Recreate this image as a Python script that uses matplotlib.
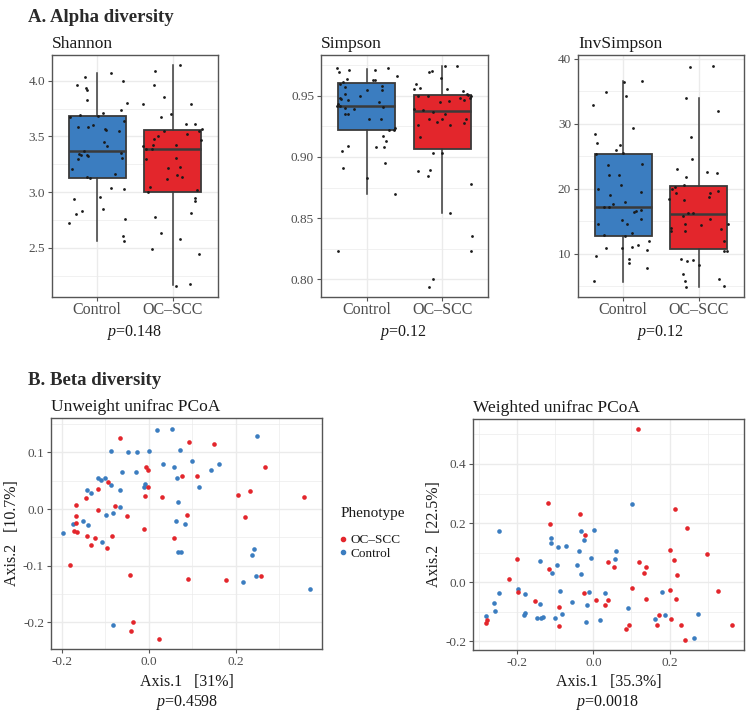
import numpy as np
import matplotlib
matplotlib.use('Agg')
import matplotlib.pyplot as plt
from matplotlib.ticker import MultipleLocator
from matplotlib.lines import Line2D

plt.rcParams['font.family'] = ['Liberation Serif', 'DejaVu Serif']
plt.rcParams['mathtext.fontset'] = 'custom'
plt.rcParams['mathtext.rm'] = 'Liberation Serif'
plt.rcParams['mathtext.it'] = 'Liberation Serif:italic'

# ---------------- data ----------------
groups = ["Control", "OC–SCC"]
ctrl_color = "#3B7DC0"
oc_color = "#E3262C"

# Shannon
shannon_ctrl = [4.03, 3.96, 3.93, 3.92, 3.83, 4.07, 4.00, 3.80, 3.74, 3.64, 3.71, 3.68, 3.69, 3.67, 3.58,
                3.58, 3.60, 3.57, 3.56, 3.55, 3.45, 3.41, 3.37, 3.34, 3.33, 3.30, 3.32, 3.33, 3.35, 3.31,
                3.21, 3.14, 3.13, 3.16, 3.04, 3.03, 2.94, 2.96, 2.85, 2.83, 2.80, 2.72, 2.76, 2.61, 2.56]
shannon_ctrl_jit = [-0.16, -0.27, -0.15, -0.13, -0.14, 0.18, 0.34, 0.39, 0.32, 0.36, 0.08, 0.01, -0.23, -0.36, -0.25,
                    -0.12, -0.05, 0.10, 0.11, 0.29, 0.09, 0.13, -0.18, -0.24, -0.22, -0.25, -0.12, -0.13, 0.31, 0.33,
                    -0.34, -0.13, -0.10, 0.23, 0.18, 0.35, -0.31, 0.04, 0.07, -0.20, -0.28, -0.37, 0.37, 0.34, 0.36]
shannon_oc = [4.14, 4.09, 3.96, 3.85, 3.79, 3.79, 3.70, 3.67, 3.61, 3.61, 3.57, 3.55, 3.55, 3.52, 3.50,
              3.48, 3.47, 3.41, 3.42, 3.42, 3.39, 3.39, 3.30, 3.31, 3.22, 3.23, 3.15, 3.14, 3.12, 3.05,
              3.00, 3.02, 2.95, 2.92, 2.81, 2.78, 2.63, 2.58, 2.49, 2.45, 2.18, 2.16]
shannon_oc_jit = [0.10, -0.24, -0.25, -0.11, -0.40, 0.24, -0.02, -0.15, 0.18, 0.29, 0.39, 0.35, -0.12, 0.19, -0.19,
                  -0.25, 0.37, -0.39, -0.26, 0.05, -0.35, -0.28, -0.36, 0.04, -0.06, 0.10, 0.06, 0.12, -0.08, -0.30,
                  -0.33, 0.32, 0.29, 0.29, 0.24, -0.24, -0.15, 0.10, -0.28, 0.35, 0.23, 0.05]
# box stats: whislo, q1, median, q3, whishi
shannon_box_ctrl = [2.56, 3.13, 3.37, 3.68, 4.07]
shannon_box_oc = [2.17, 3.00, 3.39, 3.56, 4.14]

# Simpson
simpson_ctrl = [0.9726, 0.969, 0.971, 0.9726, 0.9707, 0.9658, 0.964, 0.9625, 0.9625, 0.961,
                0.960, 0.957, 0.958, 0.955, 0.9546, 0.9514, 0.9497, 0.948, 0.9475, 0.9465,
                0.9445, 0.9432, 0.9415, 0.9415, 0.9396, 0.9394, 0.9404, 0.9347, 0.9347, 0.9306,
                0.9306, 0.924, 0.9224, 0.9216, 0.917, 0.9126, 0.9083, 0.908, 0.909, 0.9047,
                0.8908, 0.8954, 0.8826, 0.8698, 0.8229]
simpson_ctrl_jit = [-0.39, -0.36, -0.23, 0.28, 0.11, 0.40, -0.26, 0.08, 0.11, -0.31,
                    -0.35, -0.28, 0.21, 0.20, 0.00, -0.28, -0.09, -0.35, -0.34, -0.24,
                    0.17, -0.37, -0.39, -0.35, -0.29, -0.17, 0.22, -0.28, -0.25, 0.03,
                    0.19, 0.38, 0.36, 0.30, 0.22, 0.25, 0.12, 0.23, -0.24, -0.32,
                    -0.31, 0.24, 0.01, 0.37, -0.37]
simpson_oc = [0.9743, 0.9743, 0.9705, 0.969, 0.9642, 0.9595, 0.9563, 0.9555, 0.9552, 0.9541,
              0.9516, 0.951, 0.950, 0.9497, 0.9497, 0.9481, 0.9481, 0.9465, 0.9456, 0.9451,
              0.9388, 0.9385, 0.9364, 0.9347, 0.9306, 0.9306, 0.9306, 0.9274, 0.9287, 0.926,
              0.926, 0.9165, 0.9031, 0.9031, 0.8884, 0.8897, 0.8848, 0.878, 0.8543, 0.8354,
              0.8234, 0.8002, 0.794]
simpson_oc_jit = [0.03, 0.19, -0.14, -0.18, -0.02, -0.35, -0.30, -0.37, 0.06, 0.27,
                  0.32, 0.34, 0.38, -0.32, -0.19, 0.36, 0.23, 0.29, 0.08, -0.03,
                  -0.37, -0.26, -0.13, 0.04, -0.18, -0.01, 0.31, 0.28, -0.07, -0.32,
                  0.10, -0.29, -0.12, 0.00, -0.32, -0.16, -0.19, 0.38, 0.10, 0.39,
                  0.38, -0.13, -0.18]
simpson_box_ctrl = [0.870, 0.9216, 0.9413, 0.9604, 0.972]
simpson_box_oc = [0.8543, 0.9066, 0.9375, 0.951, 0.9745]

# InvSimpson
invsimpson_ctrl = [32.85, 34.85, 36.5, 36.55, 34.3, 29.35, 28.4, 27.0, 26.8, 25.95,
                   25.54, 25.33, 23.7, 23.8, 22.1, 22.1, 20.5, 20.0, 19.5, 19.05,
                   17.7, 17.9, 17.1, 17.1, 16.7, 16.6, 16.4, 15.2, 15.35, 14.5,
                   14.5, 12.9, 12.7, 13.1, 12.0, 10.9, 10.9, 11.0, 11.3, 10.5,
                   9.6, 9.15, 8.55, 7.7, 5.7]
invsimpson_ctrl_jit = [-0.40, -0.23, 0.01, 0.25, 0.04, 0.13, -0.38, -0.35, -0.04, -0.09,
                       -0.01, -0.36, -0.20, 0.25, -0.19, -0.06, -0.03, -0.33, 0.24, -0.17,
                       -0.14, 0.02, -0.26, -0.19, 0.23, 0.17, 0.14, -0.02, 0.24, -0.33,
                       0.05, -0.25, 0.02, 0.12, 0.34, -0.23, -0.02, 0.12, 0.20, 0.31,
                       -0.36, 0.08, 0.08, 0.32, -0.39]
invsimpson_oc = [38.9, 38.7, 33.9, 32.0, 28.0, 24.6, 23.0, 22.6, 22.35, 21.8,
                 20.5, 20.3, 20.0, 19.4, 19.7, 19.3, 18.75, 18.4, 18.2, 16.3,
                 16.3, 15.8, 15.3, 14.5, 14.5, 14.4, 14.0, 13.5, 13.5, 13.8,
                 12.0, 10.4, 10.4, 9.1, 9.0, 8.8, 8.25, 6.9, 6.1, 5.7,
                 4.9, 5.0]
invsimpson_oc_jit = [0.19, -0.12, -0.17, 0.26, -0.10, -0.09, -0.29, 0.11, 0.24, -0.17,
                     -0.20, -0.31, -0.36, -0.30, 0.26, 0.15, 0.14, -0.40, -0.20, -0.14,
                     -0.07, -0.21, 0.15, 0.39, -0.18, 0.03, -0.37, -0.37, -0.18, 0.29,
                     0.33, 0.34, 0.38, -0.24, -0.08, -0.15, 0.00, -0.21, 0.27, -0.18,
                     -0.17, 0.34]
invsimpson_box_ctrl = [5.62, 12.72, 17.1, 25.33, 36.6]
invsimpson_box_oc = [4.85, 10.77, 16.07, 20.44, 33.9]

alpha_pvals = ["0.148", "0.12", "0.12"]
beta_pvals = ["0.4598", "0.0018"]

# Unweighted UniFrac PCoA
uw_ctrl_x = [-0.198, -0.175, -0.152, -0.139, -0.141, -0.132, -0.116, -0.109, -0.100, -0.087,
             -0.098, -0.107, -0.082, -0.065, -0.065, -0.061, -0.087, -0.048, -0.027, 0.001,
             -0.030, -0.011, -0.008, 0.018, 0.053, 0.033, 0.057, 0.071, 0.099, 0.064,
             0.068, 0.063, 0.084, 0.067, 0.074, 0.116, 0.142, 0.162, 0.249, 0.242,
             0.238, 0.247, 0.217, 0.370, -0.083]
uw_ctrl_y = [-0.042, -0.027, -0.022, -0.029, 0.033, 0.028, 0.054, 0.051, 0.055, 0.042,
             -0.011, -0.059, -0.007, 0.003, 0.034, 0.065, 0.102, 0.100, 0.101, 0.102,
             0.065, 0.039, 0.045, 0.139, 0.142, 0.079, 0.075, 0.104, 0.084, 0.055,
             0.013, -0.021, -0.026, -0.075, -0.075, 0.038, 0.069, 0.079, 0.129, -0.070,
             -0.081, -0.118, -0.128, -0.141, -0.204]
uw_oc_x = [-0.065, 0.092, 0.151, 0.267, -0.093, -0.007, -0.002, -0.002, -0.116, -0.143,
           -0.167, -0.009, 0.031, 0.077, 0.110, -0.077, -0.117, -0.167, -0.167, -0.171,
           -0.164, -0.141, -0.124, -0.132, -0.097, -0.084, -0.049, -0.010, 0.059, 0.089,
           0.206, 0.233, 0.221, 0.356, -0.180, -0.043, 0.090, 0.178, 0.257, -0.036,
           -0.040, 0.023]
uw_oc_y = [0.125, 0.118, 0.115, 0.075, 0.048, 0.074, 0.069, 0.038, 0.036, 0.019,
           0.007, 0.023, 0.022, 0.059, 0.059, 0.006, -0.001, -0.012, -0.024, -0.039,
           -0.041, -0.048, -0.052, -0.064, -0.069, -0.047, -0.012, -0.035, -0.052, -0.011,
           0.025, 0.031, -0.014, 0.021, -0.098, -0.116, -0.124, -0.125, -0.118, -0.199,
           -0.215, -0.229]

# Weighted UniFrac PCoA
w_ctrl_x = [-0.249, -0.284, -0.262, -0.259, -0.249, -0.199, -0.181, -0.184, -0.179, -0.149,
            -0.138, -0.132, -0.141, -0.140, -0.113, -0.113, -0.109, -0.095, -0.093, -0.073,
            -0.100, -0.088, -0.082, -0.056, -0.043, -0.039, -0.034, -0.034, -0.025, 0.001,
            -0.007, -0.017, -0.011, -0.019, 0.018, 0.031, 0.056, 0.060, 0.101, 0.091,
            0.161, 0.180, 0.189, 0.275, 0.265]
w_ctrl_y = [0.175, -0.113, -0.070, -0.097, -0.035, -0.024, -0.038, -0.111, -0.105, -0.121,
            -0.121, -0.118, -0.072, 0.072, 0.150, 0.134, 0.033, 0.058, 0.118, 0.121,
            -0.122, -0.030, -0.108, -0.067, 0.060, 0.106, 0.175, 0.028, 0.144, 0.177,
            0.081, -0.077, -0.034, -0.135, -0.127, -0.037, 0.080, 0.107, 0.266, -0.088,
            -0.124, -0.032, -0.111, -0.108, -0.190]
w_oc_x = [0.118, -0.119, -0.115, -0.035, -0.022, 0.214, 0.245, 0.200, 0.298, 0.212,
          0.121, 0.138, 0.134, 0.037, 0.053, -0.117, -0.200, -0.223, -0.199, -0.153,
          -0.092, -0.090, -0.026, 0.007, 0.039, 0.029, 0.102, 0.137, 0.200, 0.216,
          0.221, 0.327, 0.172, 0.167, 0.205, 0.229, 0.240, 0.364, 0.094, 0.086,
          -0.280, -0.283]
w_oc_y = [0.518, 0.268, 0.197, 0.230, 0.161, 0.249, 0.185, 0.108, 0.097, 0.076,
          0.067, 0.053, 0.030, 0.070, 0.052, 0.046, 0.080, 0.010, -0.033, -0.063,
          -0.083, -0.149, -0.036, -0.059, -0.060, -0.078, -0.020, -0.056, -0.027, -0.056,
          0.023, -0.029, -0.111, -0.146, -0.124, -0.146, -0.195, -0.143, -0.144, -0.158,
          -0.126, -0.139]

# ---------------- styling ----------------
W, H = 753, 717
fig = plt.figure(figsize=(W / 100, H / 100), dpi=100)

def rect(x0, y0, x1, y1):
    return [x0 / W, 1 - y1 / H, (x1 - x0) / W, (y1 - y0) / H]

GRID = "#EBEBEB"
BORDER = "#555555"
TICKC = "#4D4D4D"
TXT = "#1A1A1A"

def style(ax, xmaj=None, xmin=None, ymaj=None, ymin=None):
    for s in ax.spines.values():
        s.set_color(BORDER)
        s.set_linewidth(1.0)
    ax.set_axisbelow(True)
    if xmaj is not None:
        ax.xaxis.set_major_locator(MultipleLocator(xmaj))
    if xmin is not None:
        ax.xaxis.set_minor_locator(MultipleLocator(xmin))
    if ymaj is not None:
        ax.yaxis.set_major_locator(MultipleLocator(ymaj))
    if ymin is not None:
        ax.yaxis.set_minor_locator(MultipleLocator(ymin))
    ax.grid(True, which='major', color=GRID, linewidth=1.0)
    ax.grid(True, which='minor', color=GRID, linewidth=0.5)
    ax.tick_params(which='major', length=3, width=0.8, color=BORDER, labelcolor=TICKC, labelsize=9.5, pad=2)
    ax.tick_params(which='minor', length=0)


def box_panel(rect_px, ctrl, ctrl_jit, oc, oc_jit, bctrl, boc, ylim, ymaj, ymin, title, fmt):
    ax = fig.add_axes(rect(*rect_px))
    stats = []
    for b in (bctrl, boc):
        stats.append(dict(whislo=b[0], q1=b[1], med=b[2], q3=b[3], whishi=b[4], fliers=[]))
    bp = ax.bxp(stats, positions=[1, 2], widths=0.76, patch_artist=True, showcaps=False,
                showfliers=False,
                boxprops=dict(edgecolor="#3A3A3A", linewidth=1.3),
                medianprops=dict(color="#3A3A3A", linewidth=1.8),
                whiskerprops=dict(color="#3A3A3A", linewidth=1.1))
    for patch, c in zip(bp['boxes'], (ctrl_color, oc_color)):
        patch.set_facecolor(c)
    ax.scatter(1 + np.array(ctrl_jit), ctrl, s=4, color="#1A1A1A", zorder=4, linewidths=0)
    ax.scatter(2 + np.array(oc_jit), oc, s=4, color="#1A1A1A", zorder=4, linewidths=0)
    ax.set_xlim(0.4, 2.6)
    ax.set_ylim(*ylim)
    style(ax, ymaj=ymaj, ymin=ymin)
    ax.set_xticks([1, 2])
    ax.set_xticklabels(groups, fontsize=11.5)
    ax.tick_params(axis='x', labelcolor=TICKC, pad=0.5)
    ax.yaxis.set_major_formatter(plt.FormatStrFormatter(fmt))
    ax.set_title(title, loc='left', fontsize=12.5, color=TXT, pad=5, x=0.0)
    return ax

ax1 = box_panel((52, 55, 218, 297), shannon_ctrl, shannon_ctrl_jit, shannon_oc, shannon_oc_jit,
                shannon_box_ctrl, shannon_box_oc, (2.06, 4.23), 0.5, 0.25, "Shannon", "%.1f")
ax2 = box_panel((321, 55, 488, 297), simpson_ctrl, simpson_ctrl_jit, simpson_oc, simpson_oc_jit,
                simpson_box_ctrl, simpson_box_oc, (0.7855, 0.9833), 0.05, 0.025, "Simpson", "%.2f")
ax3 = box_panel((578, 55, 744, 297), invsimpson_ctrl, invsimpson_ctrl_jit, invsimpson_oc, invsimpson_oc_jit,
                invsimpson_box_ctrl, invsimpson_box_oc, (3.3, 40.6), 10, 5, "InvSimpson", "%d")

for xc, p in zip((135, 404, 661), alpha_pvals):
    fig.text(xc / W, 1 - 332 / H, r"$p$" + "=" + p, ha='center', va='center',
             fontsize=11.5, color=TXT)

fig.text(28 / W, 1 - 18 / H, "A. Alpha diversity", fontsize=13.5, fontweight='bold',
         color="#2A2A2A", ha='left', va='center')
fig.text(28 / W, 1 - 380 / H, "B. Beta diversity", fontsize=13.5, fontweight='bold',
         color="#2A2A2A", ha='left', va='center')

# Unweighted
ax4 = fig.add_axes(rect(51, 418, 322, 649))
ax4.scatter(uw_ctrl_x, uw_ctrl_y, s=11, color=ctrl_color, zorder=3, linewidths=0)
ax4.scatter(uw_oc_x, uw_oc_y, s=11, color=oc_color, zorder=3, linewidths=0)
ax4.set_xlim(-0.2245, 0.398)
ax4.set_ylim(-0.247, 0.1606)
style(ax4, 0.2, 0.1, 0.1, 0.05)
ax4.xaxis.set_major_formatter(plt.FormatStrFormatter("%.1f"))
ax4.yaxis.set_major_formatter(plt.FormatStrFormatter("%.1f"))
ax4.set_xlabel("Axis.1   [31%]", fontsize=11.5, color=TXT, labelpad=4)
ax4.set_ylabel("Axis.2   [10.7%]", fontsize=11.5, color=TXT, labelpad=2)
ax4.set_title("Unweight unifrac PCoA", loc='left', fontsize=12.5, color=TXT, pad=5)

# Weighted
ax5 = fig.add_axes(rect(473, 419, 744, 650))
ax5.scatter(w_ctrl_x, w_ctrl_y, s=11, color=ctrl_color, zorder=3, linewidths=0)
ax5.scatter(w_oc_x, w_oc_y, s=11, color=oc_color, zorder=3, linewidths=0)
ax5.set_xlim(-0.317, 0.396)
ax5.set_ylim(-0.229, 0.552)
style(ax5, 0.2, 0.1, 0.2, 0.1)
ax5.xaxis.set_major_formatter(plt.FormatStrFormatter("%.1f"))
ax5.yaxis.set_major_formatter(plt.FormatStrFormatter("%.1f"))
ax5.set_xlabel("Axis.1   [35.3%]", fontsize=11.5, color=TXT, labelpad=4)
ax5.set_ylabel("Axis.2   [22.5%]", fontsize=11.5, color=TXT, labelpad=2)
ax5.set_title("Weighted unifrac PCoA", loc='left', fontsize=12.5, color=TXT, pad=5)

for xc, p in zip((187, 608), beta_pvals):
    fig.text(xc / W, 1 - 702 / H, r"$p$" + "=" + p, ha='center', va='center',
             fontsize=11.5, color=TXT)

# legend
fig.text(341 / W, 1 - 513 / H, "Phenotype", fontsize=11, color=TXT, ha='left', va='center')
handles = [Line2D([], [], marker='o', linestyle='', markersize=3, color=oc_color),
           Line2D([], [], marker='o', linestyle='', markersize=3, color=ctrl_color)]
leg = fig.legend(handles, ["OC–SCC", "Control"], loc='upper left',
                 bbox_to_anchor=(328 / W, 1 - 525 / H), frameon=False, fontsize=9.5,
                 handletextpad=0.2, handlelength=0.8, labelspacing=0.1, borderpad=0.2)
for t in leg.get_texts():
    t.set_color(TXT)

fig.savefig("out.png", dpi=100)
